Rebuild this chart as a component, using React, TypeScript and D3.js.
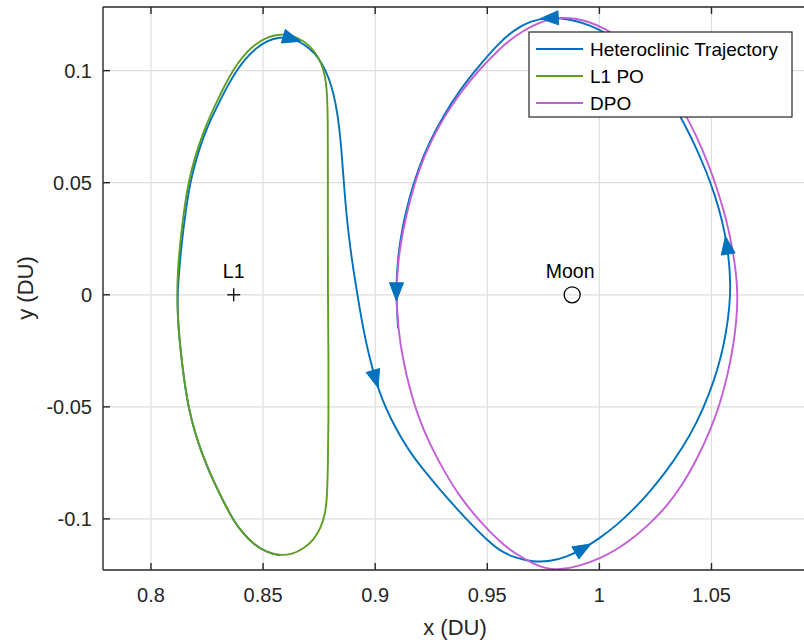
import React from 'react';
import * as d3 from 'd3';

type Pt = [number, number];

// Axis ticks
const xTicks = [0.8, 0.85, 0.9, 0.95, 1, 1.05];
const xTickLabels = ['0.8', '0.85', '0.9', '0.95', '1', '1.05'];
const yTicks = [-0.1, -0.05, 0, 0.05, 0.1];
const yTickLabels = ['-0.1', '-0.05', '0', '0.05', '0.1'];

// Planar Lyapunov orbit around L1 (closed loop, DU)
const l1Orbit: Pt[] = [
  [0.8789, 0.0], [0.8789, 0.0289], [0.8789, 0.0557], [0.8789, 0.078], [0.8785, 0.0914],
  [0.8776, 0.0981], [0.8758, 0.1039], [0.8727, 0.1092], [0.8682, 0.1132], [0.8629, 0.1159],
  [0.8575, 0.1163], [0.8517, 0.115], [0.8459, 0.1114], [0.841, 0.1065], [0.8366, 0.1003],
  [0.833, 0.0936], [0.8297, 0.0869], [0.8262, 0.0793], [0.8226, 0.0705], [0.8196, 0.0614],
  [0.8169, 0.0512], [0.8147, 0.0378], [0.8129, 0.0222], [0.812, 0.0111], [0.8116, 0.0],
  [0.812, -0.0111], [0.8129, -0.0222], [0.8147, -0.0378], [0.8169, -0.0512], [0.8196, -0.0614],
  [0.8226, -0.0705], [0.8262, -0.0793], [0.8297, -0.0869], [0.833, -0.0936], [0.8366, -0.1003],
  [0.841, -0.1065], [0.8459, -0.1114], [0.8517, -0.115], [0.8575, -0.1163], [0.8629, -0.1159],
  [0.8682, -0.1132], [0.8727, -0.1092], [0.8758, -0.1039], [0.8776, -0.0981], [0.8785, -0.0914],
  [0.8789, -0.078], [0.8792, -0.0557], [0.8792, -0.0289],
];

// Distant prograde orbit around the Moon (closed loop, DU)
const dpoOrbit: Pt[] = [
  [0.9093, 0.0], [0.9102, 0.0155], [0.9124, 0.0289], [0.9155, 0.0423], [0.9193, 0.0552],
  [0.9244, 0.0677], [0.9307, 0.0793], [0.9378, 0.09], [0.9465, 0.1006], [0.9557, 0.11],
  [0.963, 0.116], [0.9704, 0.1203], [0.9771, 0.1228], [0.9824, 0.1237], [0.9891, 0.1234],
  [0.9958, 0.1217], [1.0025, 0.1187], [1.0092, 0.1145], [1.0159, 0.109], [1.0226, 0.1023],
  [1.0297, 0.094], [1.0368, 0.0835], [1.0433, 0.071], [1.0488, 0.058], [1.0532, 0.0452],
  [1.0568, 0.033], [1.0594, 0.0205], [1.061, 0.0095], [1.0617, 0.0],
  [1.0612, -0.0112], [1.0598, -0.0224], [1.0574, -0.035], [1.054, -0.048], [1.0495, -0.0605],
  [1.0437, -0.073], [1.037, -0.085], [1.0295, -0.095], [1.0226, -0.102], [1.0155, -0.1082],
  [1.008, -0.1135], [1.0003, -0.1176], [0.9913, -0.121], [0.9824, -0.1228], [0.9757, -0.1221],
  [0.9704, -0.1199], [0.9628, -0.1158], [0.9557, -0.1104], [0.9467, -0.1012], [0.9378, -0.0902],
  [0.9309, -0.079], [0.9246, -0.0672], [0.9193, -0.0548], [0.9155, -0.0425], [0.9124, -0.0291],
  [0.9102, -0.015],
];

// Heteroclinic transfer: leaves the L1 orbit and settles onto the DPO (DU)
const heteroclinic: Pt[] = [
  [0.8575, -0.1163], [0.8517, -0.115], [0.8459, -0.1114], [0.841, -0.1065], [0.8366, -0.1003],
  [0.833, -0.0936], [0.8297, -0.0869], [0.8262, -0.0793], [0.8226, -0.0705], [0.8196, -0.0614],
  [0.8169, -0.0512], [0.8147, -0.0378], [0.8129, -0.0222], [0.812, -0.0111], [0.8118, 0.0],
  [0.8126, 0.0111], [0.8136, 0.0222], [0.8155, 0.0378], [0.8177, 0.0512], [0.8203, 0.061],
  [0.8232, 0.07], [0.8268, 0.0785], [0.8305, 0.086], [0.8339, 0.0927], [0.8375, 0.099],
  [0.8418, 0.105], [0.8465, 0.1098], [0.8517, 0.1134], [0.8575, 0.115], [0.8629, 0.1146],
  [0.8682, 0.1119], [0.8731, 0.1079], [0.8767, 0.1025], [0.8794, 0.0967], [0.8816, 0.0891],
  [0.8833, 0.0802], [0.8846, 0.0691], [0.8856, 0.0557], [0.8866, 0.0423], [0.8879, 0.0289],
  [0.8896, 0.0155], [0.8919, 0.001], [0.8946, -0.015], [0.8972, -0.0269], [0.9001, -0.038],
  [0.9032, -0.0469], [0.9068, -0.055], [0.9111, -0.063], [0.9164, -0.0715], [0.9227, -0.0795],
  [0.9293, -0.0875], [0.9365, -0.0956], [0.9436, -0.1031], [0.9503, -0.1098], [0.9557, -0.1143],
  [0.9624, -0.1174], [0.9704, -0.1192], [0.978, -0.119], [0.9855, -0.117], [0.9927, -0.1134],
  [1.0003, -0.1085], [1.0078, -0.1027], [1.015, -0.096], [1.0226, -0.0878], [1.0298, -0.0788],
  [1.037, -0.0685], [1.0435, -0.057], [1.0487, -0.045], [1.0527, -0.0335], [1.0555, -0.0224],
  [1.0574, -0.0112], [1.0585, 0.0], [1.0582, 0.0111], [1.057, 0.0222], [1.0548, 0.033],
  [1.0517, 0.044], [1.0477, 0.055], [1.043, 0.066], [1.0378, 0.0765], [1.0322, 0.0865],
  [1.026, 0.0955], [1.0192, 0.1035], [1.0125, 0.1102], [1.0045, 0.116], [0.9958, 0.1204],
  [0.9869, 0.123], [0.9775, 0.1238], [0.969, 0.1222], [0.9619, 0.1181], [0.9555, 0.1126],
  [0.9465, 0.1024], [0.9376, 0.0912], [0.9305, 0.08], [0.9241, 0.068], [0.919, 0.0556],
  [0.9151, 0.043], [0.912, 0.0296], [0.9099, 0.0155], [0.9093, 0.0], [0.9098, -0.0075],
  [0.9102, -0.015],
];

// Where the direction arrows sit along the transfer (DU)
const arrowAnchors: Pt[] = [
  [0.8611, 0.115], [0.9004, -0.0389], [0.9962, -0.113],
  [1.0575, 0.0231], [0.978, 0.1244], [0.9097, 0.0017],
];

const L1_POINT: Pt = [0.8369, 0];
const MOON_POINT: Pt = [0.98785, 0];

const BLUE = '#0072BD';
const GREEN = '#5f9f1f';
const MAGENTA = '#c25fd6';
const AXIS = '#262626';
const GRID = '#dedede';
const FONT = 'Arial, "Liberation Sans", Helvetica, sans-serif';

const legendItems = [
  { label: 'Heteroclinic Trajectory', color: BLUE },
  { label: 'L1 PO', color: GREEN },
  { label: 'DPO', color: MAGENTA },
];

export default function App() {
  const W = 804;
  const H = 642;
  const left = 103;
  const right = 807;
  const top = 7;
  const bottom = 570;

  const x = d3.scaleLinear().domain([0.7786, 1.0926]).range([left, right]);
  const y = d3.scaleLinear().domain([-0.1228, 0.1284]).range([bottom, top]);

  const openPath = d3
    .line<Pt>()
    .x((d) => x(d[0]))
    .y((d) => y(d[1]))
    .curve(d3.curveBasis);
  const closedPath = d3
    .line<Pt>()
    .x((d) => x(d[0]))
    .y((d) => y(d[1]))
    .curve(d3.curveBasisClosed);

  // Arrowheads oriented along the trajectory at the nearest sample
  const px = heteroclinic.map((d) => [x(d[0]), y(d[1])] as Pt);
  const arrows = arrowAnchors.map((a) => {
    const ax = x(a[0]);
    const ay = y(a[1]);
    let best = 1;
    let bestD = Infinity;
    px.forEach((p, i) => {
      const dd = (p[0] - ax) ** 2 + (p[1] - ay) ** 2;
      if (dd < bestD && i > 0 && i < px.length - 1) {
        bestD = dd;
        best = i;
      }
    });
    const p0 = px[best - 1];
    const p2 = px[best + 1];
    let dx = p2[0] - p0[0];
    let dy = p2[1] - p0[1];
    const len = Math.hypot(dx, dy) || 1;
    dx /= len;
    dy /= len;
    // centre on the smoothed curve: weight neighbours as the B-spline does
    const cx = (p0[0] + 4 * px[best][0] + p2[0]) / 6;
    const cy = (p0[1] + 4 * px[best][1] + p2[1]) / 6;
    const L = 9;
    const Wd = 7;
    const tip = [cx + dx * L, cy + dy * L];
    const b1 = [cx - dx * L - dy * Wd, cy - dy * L + dx * Wd];
    const b2 = [cx - dx * L + dy * Wd, cy - dy * L - dx * Wd];
    return `M${tip[0]},${tip[1]}L${b1[0]},${b1[1]}L${b2[0]},${b2[1]}Z`;
  });

  const l1x = x(L1_POINT[0]);
  const l1y = y(L1_POINT[1]);
  const mx = x(MOON_POINT[0]);
  const my = y(MOON_POINT[1]);

  return (
    <svg
      width={W}
      height={H}
      style={{ position: 'absolute', left: 0, top: 0, background: '#fff' }}
      fontFamily={FONT}
    >
      <defs>
        <clipPath id="plot-area">
          <rect x={left} y={top} width={right - left} height={bottom - top} />
        </clipPath>
      </defs>
      <rect x={0} y={0} width={W} height={H} fill="#fff" />

      {/* grid */}
      <g stroke={GRID} strokeWidth={1.2}>
        {xTicks.map((t) => (
          <line key={`gx${t}`} x1={x(t)} x2={x(t)} y1={top} y2={bottom} />
        ))}
        {yTicks.map((t) => (
          <line key={`gy${t}`} x1={left} x2={W} y1={y(t)} y2={y(t)} />
        ))}
      </g>

      {/* orbits */}
      <g clipPath="url(#plot-area)" fill="none" strokeWidth={1.9} strokeLinejoin="round">
        <path d={openPath(heteroclinic) || ''} stroke={BLUE} />
        <path d={closedPath(l1Orbit) || ''} stroke={GREEN} />
        <path d={closedPath(dpoOrbit) || ''} stroke={MAGENTA} />
        {arrows.map((d, i) => (
          <path key={`a${i}`} d={d} fill={BLUE} stroke={BLUE} strokeWidth={1} />
        ))}
      </g>

      {/* L1 point and Moon */}
      <g stroke="#000" strokeWidth={1.3} fill="none">
        <line x1={l1x - 6.5} x2={l1x + 6.5} y1={l1y} y2={l1y} />
        <line x1={l1x} x2={l1x} y1={l1y - 6.5} y2={l1y + 6.5} />
        <circle cx={mx} cy={my} r={8} />
      </g>
      <text x={l1x} y={l1y - 17} textAnchor="middle" fontSize={19.5} fill="#000">
        L1
      </text>
      <text x={mx - 2} y={my - 17} textAnchor="middle" fontSize={19.5} fill="#000">
        Moon
      </text>

      {/* axes frame and ticks */}
      <g stroke={AXIS} strokeWidth={1.4}>
        <line x1={left} x2={left} y1={top} y2={bottom} />
        <line x1={left} x2={W} y1={bottom} y2={bottom} />
        <line x1={left} x2={W} y1={top} y2={top} />
        {xTicks.map((t) => (
          <g key={`tx${t}`}>
            <line x1={x(t)} x2={x(t)} y1={bottom} y2={bottom - 7} />
            <line x1={x(t)} x2={x(t)} y1={top} y2={top + 7} />
          </g>
        ))}
        {yTicks.map((t) => (
          <line key={`ty${t}`} x1={left} x2={left + 7} y1={y(t)} y2={y(t)} />
        ))}
      </g>

      <g fill={AXIS} fontSize={20}>
        {xTicks.map((t, i) => (
          <text key={`lx${t}`} x={x(t)} y={bottom + 32} textAnchor="middle">
            {xTickLabels[i]}
          </text>
        ))}
        {yTicks.map((t, i) => (
          <text key={`ly${t}`} x={left - 11} y={y(t)} textAnchor="end" dominantBaseline="central">
            {yTickLabels[i]}
          </text>
        ))}
      </g>

      <text x={455} y={635} textAnchor="middle" fontSize={22} fill={AXIS}>
        x (DU)
      </text>
      <text
        transform={`translate(33, 288) rotate(-90)`}
        textAnchor="middle"
        fontSize={22}
        fill={AXIS}
      >
        y (DU)
      </text>

      {/* legend */}
      <g>
        <rect x={529} y={32} width={263} height={85} fill="#fff" stroke={AXIS} strokeWidth={1.2} />
        {legendItems.map((item, i) => (
          <g key={item.label}>
            <line
              x1={536}
              x2={583}
              y1={49 + i * 27}
              y2={49 + i * 27}
              stroke={item.color}
              strokeWidth={1.9}
            />
            <text x={590} y={49 + i * 27} dominantBaseline="central" fontSize={19} fill="#000">
              {item.label}
            </text>
          </g>
        ))}
      </g>
    </svg>
  );
}
